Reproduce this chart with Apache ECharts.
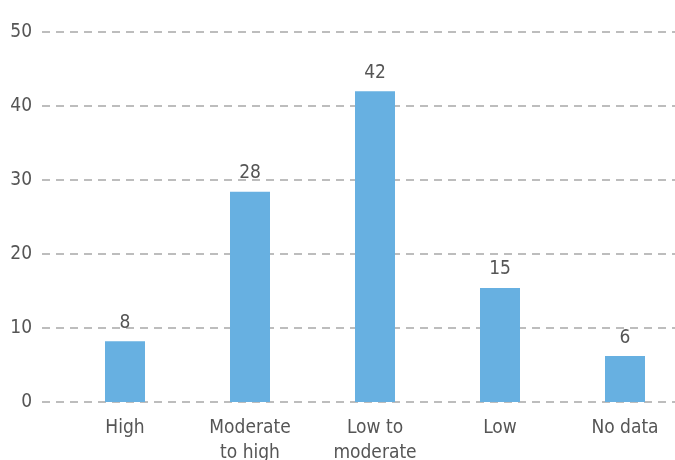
<!DOCTYPE html>
<html><head><meta charset="utf-8">
<script src="https://cdn.jsdelivr.net/npm/echarts@6/dist/echarts.min.js"></script>
<style>html,body{margin:0;padding:0;background:#fff}#c{width:675px;height:460px}</style>
</head><body><div id="c"></div>
<script>
const categories = ['High', 'Moderate\nto high', 'Low to\nmoderate', 'Low', 'No data'];
const values = [8.2, 28.4, 42, 15.4, 6.2];
const yTicks = [0, 10, 20, 30, 40, 50];

const FONT = "'Liberation Sans Narrow', 'DejaVu Sans Condensed', 'Roboto', sans-serif";
const TXT = '#555';
const chart = echarts.init(document.getElementById('c'));
chart.setOption({
  animation: false,
  grid: [
    { left: 42, right: 0, top: 32, bottom: 58, outerBoundsMode: 'none' },
    { left: 62.5, width: 625, top: 32, bottom: 58, outerBoundsMode: 'none' }
  ],
  xAxis: [
    { type: 'category', gridIndex: 0, data: categories, show: false },
    { type: 'category', gridIndex: 1, data: categories,
      axisLine: { show: false }, axisTick: { show: false },
      axisLabel: { color: TXT, fontFamily: FONT, fontSize: 19, lineHeight: 25, margin: 14, interval: 0 } }
  ],
  yAxis: [
    { type: 'value', gridIndex: 0, min: yTicks[0], max: yTicks[yTicks.length - 1], interval: 10,
      axisLine: { show: false }, axisTick: { show: false },
      axisLabel: { color: TXT, fontFamily: FONT, fontSize: 19, margin: 10 },
      splitLine: { lineStyle: { color: '#a8a8a8', width: 1.5, type: [8, 6] } } },
    { type: 'value', gridIndex: 1, min: yTicks[0], max: yTicks[yTicks.length - 1], interval: 10, show: false,
      splitLine: { show: false } }
  ],
  series: [{
    type: 'bar', xAxisIndex: 1, yAxisIndex: 1, data: values, barWidth: 40,
    itemStyle: { color: '#67b0e1' },
    label: { show: true, position: 'top', distance: 9, color: TXT, fontFamily: FONT, fontSize: 19,
      formatter: p => String(Math.round(p.value)) }
  }]
});
</script></body></html>
